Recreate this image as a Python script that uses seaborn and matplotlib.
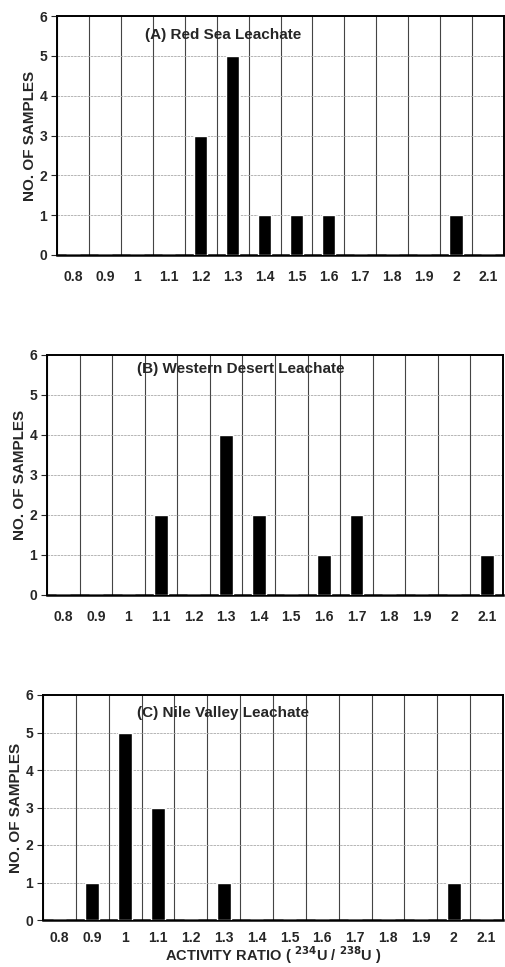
import numpy as np
import pandas as pd
import matplotlib
matplotlib.use("Agg")
import matplotlib.pyplot as plt
import seaborn as sns

ratios = ["0.8", "0.9", "1", "1.1", "1.2", "1.3", "1.4", "1.5", "1.6", "1.7", "1.8", "1.9", "2", "2.1"]
red_sea = [0, 0, 0, 0, 3, 5, 1, 1, 1, 0, 0, 0, 1, 0]
western_desert = [0, 0, 0, 2, 0, 4, 2, 0, 1, 2, 0, 0, 0, 1]
nile_valley = [0, 1, 5, 3, 0, 1, 0, 0, 0, 0, 0, 0, 1, 0]
titles = ["(A) Red Sea Leachate", "(B) Western Desert Leachate", "(C) Nile Valley Leachate"]
y_ticks = [0, 1, 2, 3, 4, 5, 6]

sns.set_style("white")
plt.rcParams['font.family'] = ['Liberation Sans', 'DejaVu Sans']

fig = plt.figure(figsize=(5.05, 9.67), dpi=100)
rects = [
    [57/505, 1-255/967, 447/505, 239/967],
    [47/505, 1-595/967, 456/505, 240/967],
    [43/505, 1-920/967, 460/505, 225/967],
]
title_x = [0.196, 0.197, 0.204]
title_y = [0.92, 0.94, 0.92]
tick_pad = [11, 11, 8]
series = [red_sea, western_desert, nile_valley]

for i, (rect, vals, title) in enumerate(zip(rects, series, titles)):
    ax = fig.add_axes(rect)
    df = pd.DataFrame({"ratio": ratios, "count": vals})
    sns.barplot(data=df, x="ratio", y="count", order=ratios, color="black",
                width=0.42, ax=ax, zorder=3, saturation=1)
    ax.set_xlim(-0.5, len(ratios) - 0.5)
    ax.set_ylim(0, 6)
    ax.set_yticks(y_ticks)
    ax.set_yticklabels([str(t) for t in y_ticks], fontsize=10, fontweight="bold")
    ax.set_xticks(range(len(ratios)))
    ax.set_xticklabels(ratios, fontsize=10, fontweight="bold")
    ax.set_xticks(np.arange(-0.5, len(ratios), 1), minor=True)
    ax.tick_params(axis="x", which="major", length=0, pad=tick_pad[i])
    ax.tick_params(axis="x", which="minor", length=4, width=0.8, direction="out", color="#333333")
    ax.tick_params(axis="y", which="major", length=4, width=0.8, direction="out", left=True, pad=3)
    ax.grid(False)
    ax.xaxis.grid(True, which="minor", color="#444444", linewidth=0.8, zorder=0)
    ax.yaxis.grid(True, which="major", color="#aaaaaa", linewidth=0.6, linestyle=(0, (3, 1)), zorder=0)
    ax.set_axisbelow(True)
    for s in ax.spines.values():
        s.set_visible(True)
        s.set_color("black")
        s.set_linewidth(1.4)
    ax.spines["bottom"].set_linewidth(1.8)
    ax.set_ylabel("NO. OF SAMPLES", fontsize=11, fontweight="bold", labelpad=2)
    if i == 2:
        ax.set_xlabel("ACTIVITY RATIO ( $\\mathbf{^{234}}$U / $\\mathbf{^{238}}$U )",
                      fontsize=10.5, fontweight="bold")
        ax.xaxis.set_label_coords(0.5, -(961 - 920) / 225)
        ax.xaxis.label.set_va("baseline")
    else:
        ax.set_xlabel("")
    ax.text(title_x[i], title_y[i], title, transform=ax.transAxes, ha="left", va="center",
            fontsize=11, fontweight="bold")

fig.savefig("out.png", dpi=100)
